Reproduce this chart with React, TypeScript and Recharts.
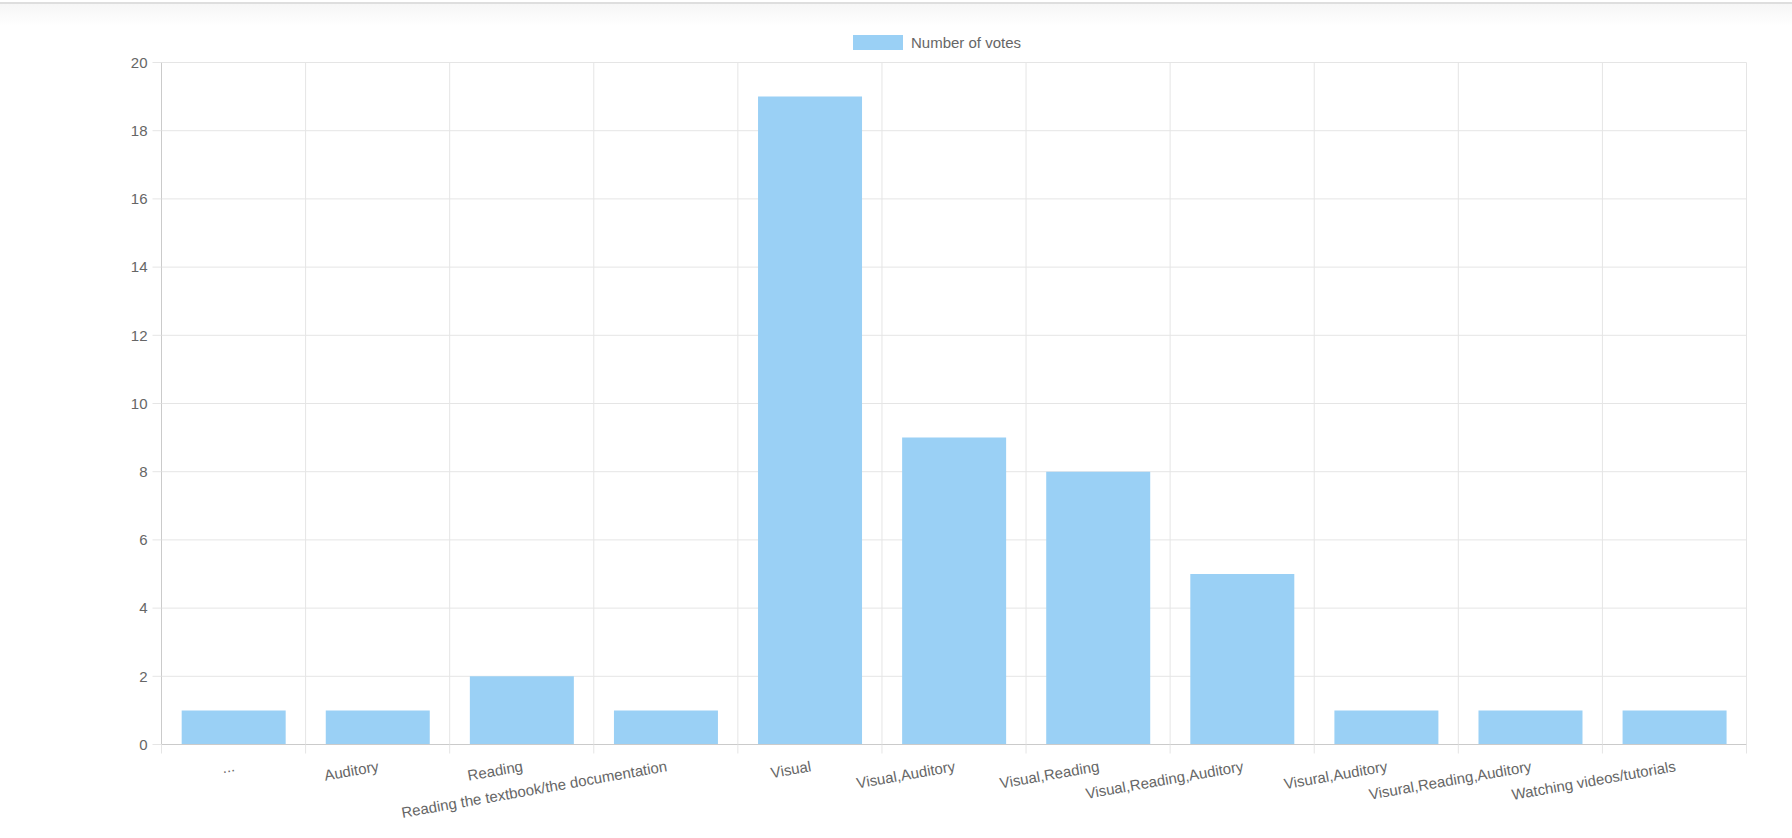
import React from "react";
import { BarChart, Bar, XAxis, YAxis, CartesianGrid, Legend } from "recharts";

const categories: string[] = [
  "...",
  "Auditory",
  "Reading",
  "Reading the textbook/the documentation",
  "Visual",
  "Visual,Auditory",
  "Visual,Reading",
  "Visual,Reading,Auditory",
  "Visural,Auditory",
  "Visural,Reading,Auditory",
  "Watching videos/tutorials",
];

const votes: number[] = [1, 1, 2, 1, 19, 9, 8, 5, 1, 1, 1];

const yTicks: number[] = [0, 2, 4, 6, 8, 10, 12, 14, 16, 18, 20];

const seriesName = "Number of votes";

const data = categories.map((c, i) => ({ category: c, votes: votes[i] }));

const FONT = '"Liberation Sans", Arial, Helvetica, sans-serif';
const TEXT = "#666666";
const GRID = "#e5e5e5";
const AXIS = "#cbcbcb";
const BAR = "#9AD0F5";

const XTick = (props: any) => {
  const { x, y, payload, index } = props;
  const off = payload && payload.offset ? payload.offset : 0;
  const last = index === categories.length - 1;
  return (
    <g>
      <line x1={x - off} x2={x - off} y1={y - 16} y2={y - 7} stroke={GRID} />
      {last ? (
        <line x1={x + off} x2={x + off} y1={y - 16} y2={y - 7} stroke={GRID} />
      ) : null}
      <text
        x={x}
        y={y}
        dy="0.72em"
        textAnchor="end"
        transform={`rotate(-10, ${x}, ${y})`}
        fill={TEXT}
        fontSize={15}
        fontFamily={FONT}
      >
        {payload.value}
      </text>
    </g>
  );
};

const LegendContent = () => (
  <div style={{ display: "flex", alignItems: "center", fontFamily: FONT }}>
    <div
      style={{
        width: 50,
        height: 15,
        background: BAR,
        boxSizing: "border-box",
      }}
    />
    <span style={{ marginLeft: 8, fontSize: 15, color: TEXT, whiteSpace: "nowrap" }}>
      {seriesName}
    </span>
  </div>
);

export default function App() {
  return (
    <div
      style={{
        position: "fixed",
        left: 0,
        top: 0,
        width: 1792,
        height: 838,
        background: "#ffffff",
        overflow: "hidden",
      }}
    >
      <div style={{ position: "absolute", left: 0, top: 2, width: 1792, height: 2, background: "#dedede" }} />
      <div
        style={{
          position: "absolute",
          left: 0,
          top: 4,
          width: 1792,
          height: 22,
          background: "linear-gradient(#f6f6f6, #ffffff)",
        }}
      />
      <div style={{ position: "absolute", left: 0, top: 0 }}>
        <BarChart
          width={1792}
          height={838}
          data={data}
          margin={{ top: 62.5, right: 45.5, left: 0, bottom: 0 }}
          barCategoryGap="14%"
          style={{ fontFamily: FONT }}
        >
          <CartesianGrid
            stroke={GRID}
            verticalCoordinatesGenerator={({ offset }: any) =>
              Array.from(
                { length: categories.length + 1 },
                (_, i) => offset.left + (i * offset.width) / categories.length
              )
            }
          />
          <XAxis
            dataKey="category"
            interval={0}
            height={93.5}
            tickLine={false}
            tickSize={9}
            tickMargin={7}
            axisLine={{ stroke: AXIS }}
            tick={<XTick />}
          />
          <YAxis
            width={161.5}
            domain={[0, 20]}
            ticks={yTicks}
            interval={0}
            tickSize={9}
            tickMargin={5}
            tickLine={{ stroke: GRID }}
            axisLine={{ stroke: AXIS }}
            tick={{ fill: TEXT, fontSize: 15, fontFamily: FONT }}
          />
          <Legend
            layout="horizontal"
            verticalAlign="middle"
            align="center"
            wrapperStyle={{ top: 34, left: 853, width: 300, height: 16 }}
            content={<LegendContent />}
          />
          <Bar dataKey="votes" name={seriesName} fill={BAR} isAnimationActive={false} />
        </BarChart>
      </div>
    </div>
  );
}
